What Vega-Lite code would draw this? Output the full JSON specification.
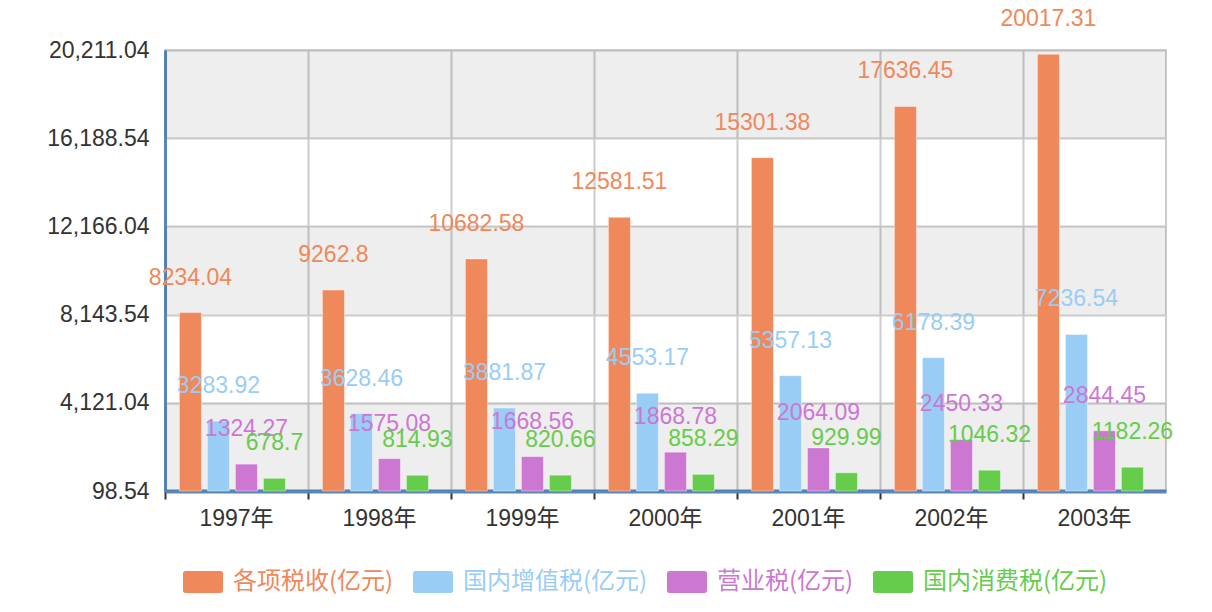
{
  "$schema": "https://vega.github.io/schema/vega-lite/v6.json",
  "width": 1001,
  "height": 441,
  "autosize": "none",
  "padding": {"left": 165, "top": 50, "right": 46, "bottom": 121},
  "background": "white",
  "config": {
    "font": "'Liberation Sans', 'Noto Sans CJK SC', sans-serif",
    "view": {"stroke": "#cccccc", "strokeWidth": 2}
  },
  "layer": [
    {
      "data": {
        "values": [
          {"lo": 98.54, "hi": 4121.04},
          {"lo": 8143.54, "hi": 12166.04},
          {"lo": 16188.54, "hi": 20211.04}
        ]
      },
      "mark": {"type": "rect", "color": "#000000", "opacity": 0.067},
      "encoding": {
        "y": {
          "field": "lo", "type": "quantitative", "title": null,
          "scale": {"domain": [98.54, 20211.04], "zero": false, "nice": false},
          "axis": {
            "values": [98.54, 4121.04, 8143.54, 12166.04, 16188.54, 20211.04],
            "format": ",.2f", "grid": true, "gridColor": "#cccccc", "gridWidth": 2,
            "domainColor": "#5a87b9", "domainWidth": 3, "ticks": false,
            "labelFontSize": 23, "labelColor": "#333333", "labelPadding": 16
          }
        },
        "y2": {"field": "hi"}
      }
    },
    {
      "data": {"name": "tax"},
      "layer": [
        {
          "mark": {"type": "bar", "stroke": "white", "strokeOpacity": 0.4, "strokeWidth": 1},
          "encoding": {
            "x": {
              "field": "year", "type": "nominal", "title": null,
              "scale": {"paddingInner": 0, "paddingOuter": 0},
              "axis": {
                "bandPosition": 0, "grid": true, "gridColor": "#cccccc", "gridWidth": 2,
                "domainColor": "#5a87b9", "domainWidth": 4,
                "tickColor": "#333333", "tickSize": 8, "tickWidth": 2,
                "labelFontSize": 23, "labelColor": "#333333", "labelPadding": 8, "labelAngle": 0
              }
            },
            "xOffset": {
              "field": "series", "type": "nominal",
              "sort": ["各项税收(亿元)", "国内增值税(亿元)", "营业税(亿元)", "国内消费税(亿元)"],
              "scale": {"paddingInner": 0.214, "paddingOuter": 0.66, "align": 0.39}
            },
            "y": {
              "field": "value", "type": "quantitative", "title": null,
              "scale": {"domain": [98.54, 20211.04], "zero": false, "nice": false},
              "axis": {
                "values": [98.54, 4121.04, 8143.54, 12166.04, 16188.54, 20211.04],
                "format": ",.2f", "grid": true, "gridColor": "#cccccc", "gridWidth": 2,
                "domainColor": "#5a87b9", "domainWidth": 3, "ticks": false,
                "labelFontSize": 23, "labelColor": "#333333", "labelPadding": 16
              }
            },
            "y2": {"datum": 98.54},
            "color": {
              "field": "series", "type": "nominal", "title": null,
              "sort": ["各项税收(亿元)", "国内增值税(亿元)", "营业税(亿元)", "国内消费税(亿元)"],
              "scale": {"range": ["#ef885a", "#9acdf6", "#cc77d2", "#66cc4c"]},
              "legend": {
                "orient": "none", "direction": "horizontal",
                "legendX": 18, "legendY": 512,
                "symbolType": "M-0.88,-0.55H0.88A0.12,0.12 0 0 1 1,-0.43V0.43A0.12,0.12 0 0 1 0.88,0.55H-0.88A0.12,0.12 0 0 1 -1,0.43V-0.43A0.12,0.12 0 0 1 -0.88,-0.55Z",
                "symbolSize": 1600, "symbolStrokeWidth": 0, "symbolOpacity": 1,
                "labelFontSize": 24, "labelFont": "'Noto Sans CJK SC', sans-serif",
                "labelColor": {"expr": "scale('color', datum.value)"},
                "labelOffset": 10, "columnPadding": 19, "labelLimit": 400
              }
            }
          }
        },
        {
          "mark": {"type": "text", "baseline": "middle", "align": "center", "dy": -35, "fontSize": 23},
          "encoding": {
            "x": {"field": "year", "type": "nominal"},
            "xOffset": {
              "field": "series", "type": "nominal",
              "sort": ["各项税收(亿元)", "国内增值税(亿元)", "营业税(亿元)", "国内消费税(亿元)"]
            },
            "y": {"field": "value", "type": "quantitative"},
            "text": {"field": "value", "type": "nominal"},
            "color": {"field": "series", "type": "nominal", "sort": ["各项税收(亿元)", "国内增值税(亿元)", "营业税(亿元)", "国内消费税(亿元)"]}
          }
        }
      ]
    }
  ],
  "datasets": {
    "tax": [
      {"year": "1997年", "series": "各项税收(亿元)", "value": 8234.04},
      {"year": "1997年", "series": "国内增值税(亿元)", "value": 3283.92},
      {"year": "1997年", "series": "营业税(亿元)", "value": 1324.27},
      {"year": "1997年", "series": "国内消费税(亿元)", "value": 678.7},
      {"year": "1998年", "series": "各项税收(亿元)", "value": 9262.8},
      {"year": "1998年", "series": "国内增值税(亿元)", "value": 3628.46},
      {"year": "1998年", "series": "营业税(亿元)", "value": 1575.08},
      {"year": "1998年", "series": "国内消费税(亿元)", "value": 814.93},
      {"year": "1999年", "series": "各项税收(亿元)", "value": 10682.58},
      {"year": "1999年", "series": "国内增值税(亿元)", "value": 3881.87},
      {"year": "1999年", "series": "营业税(亿元)", "value": 1668.56},
      {"year": "1999年", "series": "国内消费税(亿元)", "value": 820.66},
      {"year": "2000年", "series": "各项税收(亿元)", "value": 12581.51},
      {"year": "2000年", "series": "国内增值税(亿元)", "value": 4553.17},
      {"year": "2000年", "series": "营业税(亿元)", "value": 1868.78},
      {"year": "2000年", "series": "国内消费税(亿元)", "value": 858.29},
      {"year": "2001年", "series": "各项税收(亿元)", "value": 15301.38},
      {"year": "2001年", "series": "国内增值税(亿元)", "value": 5357.13},
      {"year": "2001年", "series": "营业税(亿元)", "value": 2064.09},
      {"year": "2001年", "series": "国内消费税(亿元)", "value": 929.99},
      {"year": "2002年", "series": "各项税收(亿元)", "value": 17636.45},
      {"year": "2002年", "series": "国内增值税(亿元)", "value": 6178.39},
      {"year": "2002年", "series": "营业税(亿元)", "value": 2450.33},
      {"year": "2002年", "series": "国内消费税(亿元)", "value": 1046.32},
      {"year": "2003年", "series": "各项税收(亿元)", "value": 20017.31},
      {"year": "2003年", "series": "国内增值税(亿元)", "value": 7236.54},
      {"year": "2003年", "series": "营业税(亿元)", "value": 2844.45},
      {"year": "2003年", "series": "国内消费税(亿元)", "value": 1182.26}
    ]
  }
}
